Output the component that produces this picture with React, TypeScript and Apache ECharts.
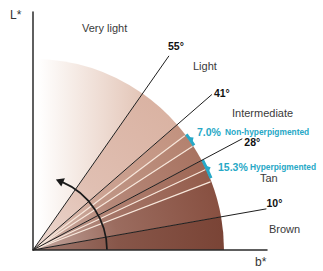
import React, { useEffect, useRef } from "react";
import * as echarts from "echarts";

// ---- data ----
const DISK_RADIUS = 191; // b* units
const RAY_LENGTH = 237;
const ITA_ARROW_RADIUS = 74;
const thresholdAngles = [55, 41, 28, 10];
const thresholdLabels = ["55°", "41°", "28°", "10°"];
const categories = ["Very light", "Light", "Intermediate", "Tan", "Brown"];
const bandEdges = [0, 10, 21, 25, 28, 33, 37, 41, 55, 90];
const bandColors = ["#7a4436", "#885041", "#945c4b", "#9e6755", "#a87361", "#b4826f", "#c2927f", "#dab3a3", "#e3c5b7"];
const subLineAngles = [37, 33, 25, 21];
const pigmentPercents = ["7.0%", "15.3%"];
const pigmentLabels = ["Non-hyperpigmented", "Hyperpigmented"];
const pigmentRanges = [[33, 37], [22, 28]];
const itaArrowRange = [0, 68];

// ---- layout / style ----
const FONT = "'Liberation Sans', Arial, sans-serif";
const CYAN = "#27a8c6";
const categoryPos = [
  [82, 29],
  [193, 67],
  [232, 114],
  [260, 179],
  [269, 230],
];
const pigmentPos = [
  [197, 132],
  [218, 167],
];
// label offsets (px) from each ray's end
const thresholdLabelOffset = [
  [7, -10],
  [10, -2],
  [10, 3],
  [8, -6],
];

const RAD = Math.PI / 180;

function mix(hex: string, t: number) {
  const n = parseInt(hex.slice(1), 16);
  const r = (n >> 16) & 255, g = (n >> 8) & 255, b = n & 255;
  const f = (v: number) => Math.round(v + (255 - v) * t);
  return `rgb(${f(r)},${f(g)},${f(b)})`;
}

function polar(cx: number, cy: number, r: number, deg: number) {
  return [cx + r * Math.cos(deg * RAD), cy - r * Math.sin(deg * RAD)];
}

const bandData = bandEdges.slice(0, -1).map((a, i) => [a, bandEdges[i + 1], i]);

const option: any = {
  animation: false,
  backgroundColor: "#ffffff",
  grid: { left: 33, right: 56, top: 12, bottom: 21 },
  xAxis: {
    type: "value", min: 0, max: 234, z: 10,
    axisLine: { show: true, onZero: false, lineStyle: { color: "#2a2a2a", width: 1.5 } },
    axisTick: { show: false }, axisLabel: { show: false }, splitLine: { show: false },
  },
  yAxis: {
    type: "value", min: 0, max: 238, z: 10,
    axisLine: { show: true, onZero: false, lineStyle: { color: "#2a2a2a", width: 1.5 } },
    axisTick: { show: false }, axisLabel: { show: false }, splitLine: { show: false },
  },
  series: [
    {
      type: "custom", name: "bands", clip: false, z: 1,
      data: bandData,
      renderItem: (params: any, api: any) => {
        const a1 = api.value(0), a2 = api.value(1), idx = api.value(2);
        const [cx, cy] = api.coord([0, 0]);
        const r = api.size([DISK_RADIUS, 0])[0];
        const col = bandColors[idx];
        let fill: any;
        if (idx === bandColors.length - 1) {
          fill = new echarts.graphic.LinearGradient(cx + 5, cy, cx + r * Math.cos(a1 * RAD), cy, [
            { offset: 0, color: "#ffffff" },
            { offset: 0.3, color: mix(col, 0.7) },
            { offset: 1, color: col },
          ], true);
        } else {
          const k = idx === 0 ? 0.6 : 1;
          fill = new echarts.graphic.RadialGradient(cx, cy, r, [
            { offset: 0, color: mix(col, 0.5 * k) },
            { offset: 0.45, color: mix(col, 0.16 * k) },
            { offset: 1, color: col },
          ], true);
        }
        return {
          type: "sector",
          shape: { cx, cy, r0: 0, r, startAngle: -a2 * RAD, endAngle: -a1 * RAD, clockwise: true },
          style: { fill, stroke: "none" },
        };
      },
    },
    {
      type: "custom", name: "subLines", clip: false, z: 2,
      data: subLineAngles.map((a) => [a]),
      renderItem: (params: any, api: any) => {
        const a = api.value(0);
        const [cx, cy] = api.coord([0, 0]);
        const r = api.size([DISK_RADIUS, 0])[0];
        const [x2, y2] = polar(cx, cy, r - 1, a);
        return {
          type: "line",
          shape: { x1: cx, y1: cy, x2, y2 },
          style: { stroke: "#f7e6da", lineWidth: 1.2 },
        };
      },
    },
    {
      type: "custom", name: "pigment", clip: false, z: 3,
      data: pigmentRanges.map((r, i) => [r[0], r[1], i]),
      renderItem: (params: any, api: any) => {
        const a1 = api.value(0), a2 = api.value(1), i = api.value(2);
        const [cx, cy] = api.coord([0, 0]);
        const r = api.size([DISK_RADIUS, 0])[0];
        const mid = (a1 + a2) / 2;
        const p1 = polar(cx, cy, r + 0.5, mid + 1.2);
        const p2 = polar(cx, cy, r + 0.5, mid - 1.2);
        const tip = polar(cx, cy, r + 5, mid);
        const [lx, ly] = pigmentPos[i];
        return {
          type: "group",
          children: [
            {
              type: "arc",
              shape: { cx, cy, r: r + 1, startAngle: -a2 * RAD, endAngle: -a1 * RAD, clockwise: true },
              style: { stroke: CYAN, lineWidth: 3, fill: "none" },
            },
            { type: "polygon", shape: { points: [p1, tip, p2] }, style: { fill: CYAN } },
            {
              type: "text", x: lx, y: ly,
              style: { text: pigmentPercents[i], fill: CYAN, fontFamily: FONT, fontSize: 10.5, fontWeight: "bold", verticalAlign: "middle", align: "left" },
            },
            {
              type: "text", x: lx + (i === 0 ? 28 : 32), y: ly,
              style: { text: pigmentLabels[i], fill: CYAN, fontFamily: FONT, fontSize: 8.4, fontWeight: "bold", verticalAlign: "middle", align: "left" },
            },
          ],
        };
      },
    },
    {
      type: "custom", name: "thresholds", clip: false, z: 4,
      data: thresholdAngles.map((a, i) => [a, i]),
      renderItem: (params: any, api: any) => {
        const a = api.value(0), i = api.value(1);
        const [cx, cy] = api.coord([0, 0]);
        const L = api.size([RAY_LENGTH, 0])[0];
        const [x2, y2] = polar(cx, cy, L, a);
        const [ox, oy] = thresholdLabelOffset[i];
        return {
          type: "group",
          children: [
            { type: "line", shape: { x1: cx, y1: cy, x2, y2 }, style: { stroke: "#1e1e1e", lineWidth: 1 } },
            {
              type: "text", x: x2 + ox, y: y2 + oy,
              style: { text: thresholdLabels[i], fill: "#111", fontFamily: FONT, fontSize: 10.5, fontWeight: "bold", align: "center", verticalAlign: "middle" },
            },
          ],
        };
      },
    },
    {
      type: "custom", name: "ita", clip: false, z: 5,
      data: [itaArrowRange],
      renderItem: (params: any, api: any) => {
        const a1 = api.value(0), a2 = api.value(1);
        const [cx, cy] = api.coord([0, 0]);
        const r = api.size([ITA_ARROW_RADIUS, 0])[0];
        const tip = polar(cx, cy, r, a2 + 4);
        const b1 = polar(cx, cy, r - 4.5, a2 - 2);
        const b2 = polar(cx, cy, r + 4.5, a2 - 2);
        return {
          type: "group",
          children: [
            {
              type: "arc",
              shape: { cx, cy, r, startAngle: -(a2 - 1) * RAD, endAngle: -a1 * RAD, clockwise: true },
              style: { stroke: "#1a1a1a", lineWidth: 1.7, fill: "none" },
            },
            { type: "polygon", shape: { points: [b1, tip, b2] }, style: { fill: "#1a1a1a" } },
          ],
        };
      },
    },
  ],
  graphic: [
    { type: "text", left: 10, top: 9, style: { text: "L*", fill: "#333", font: `12px ${FONT}` } },
    { type: "text", left: 255, top: 256, style: { text: "b*", fill: "#333", font: `12px ${FONT}` } },
    { type: "text", left: 50, top: 149, style: { text: "ITA°", fill: "#1a1a1a", font: `bold 15px ${FONT}` } },
    ...categories.map((c, i) => ({
      type: "text", left: categoryPos[i][0], top: categoryPos[i][1] - 7,
      style: { text: c, fill: "#3a3a3a", font: `11px ${FONT}` },
    })),
  ],
};

export default function App() {
  const ref = useRef<HTMLDivElement>(null);
  useEffect(() => {
    const chart = echarts.init(ref.current!, null, { renderer: "svg" });
    chart.setOption(option);
    return () => chart.dispose();
  }, []);
  return (
    <div
      ref={ref}
      style={{ position: "fixed", left: 0, top: 0, width: 323, height: 271, background: "#fff" }}
    />
  );
}
